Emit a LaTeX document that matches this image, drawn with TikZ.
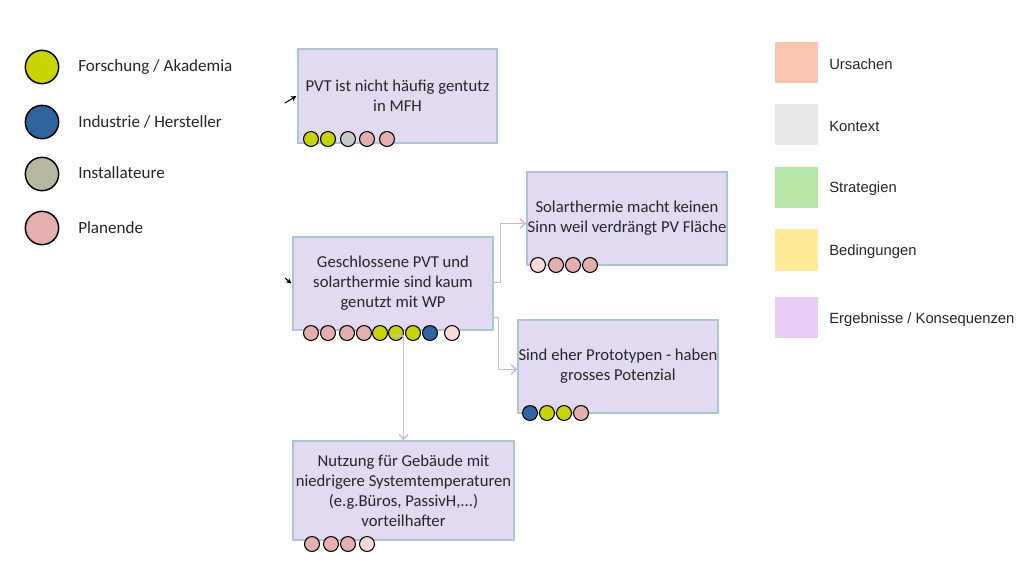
\documentclass[tikz,border=0pt]{standalone}
\usepackage{fontspec}
\setmainfont{Carlito}
\newfontfamily\arialf{Liberation Sans}
\usetikzlibrary{arrows.meta,calc}
\definecolor{boxfill}{HTML}{E2DAF0}
\definecolor{boxline}{HTML}{A9C6D2}
\definecolor{conncol}{HTML}{CDB2E3}
\definecolor{yg}{HTML}{C8D400}
\definecolor{bl}{HTML}{2E64A0}
\definecolor{gy}{HTML}{C9C9C6}
\definecolor{olv}{HTML}{B8B8A2}
\definecolor{pk}{HTML}{E3B0AE}
\definecolor{ppk}{HTML}{F8DAD8}
\definecolor{cUrs}{HTML}{F6C7AE}
\definecolor{cKon}{HTML}{E8E8E8}
\definecolor{cStr}{HTML}{B6E5A6}
\definecolor{cBed}{HTML}{FDEB99}
\definecolor{cErg}{HTML}{E8CCF5}
\tikzset{
  box/.style={draw=boxline, line width=1pt, fill=boxfill, align=center, inner sep=0pt,
    font=\fontsize{12.5}{15}\selectfont, text=black!85},
  dot/.style={circle, draw=black, line width=0.8pt, minimum size=11.2pt, inner sep=0pt},
  legdot/.style={circle, draw=black, line width=1.1pt, minimum size=25pt, inner sep=0pt},
  legtxt/.style={anchor=west, font=\fontsize{12.8}{15}\selectfont, text=black!85, inner sep=0pt},
  legsq/.style={minimum width=32pt, minimum height=31pt, inner sep=0pt},
  legtxt2/.style={anchor=west, font=\arialf\fontsize{11.1}{13}\selectfont, text=black!85, inner sep=0pt},
  conn/.style={draw=conncol, line width=1pt, -{Straight Barb[length=4pt,width=7pt]}},
  blk/.style={draw=black, line width=0.8pt, -{Stealth[length=4pt,width=4pt]}}
}
\begin{document}
\begin{tikzpicture}[x=0.75pt,y=-0.75pt]
\useasboundingbox (0,0) rectangle (1024,569);

% left legend
\node[legdot, fill=yg]  (l1) at (42,67) {};
\node[legdot, fill=bl]  (l2) at (42,122) {};
\node[legdot, fill=olv] (l3) at (42,174) {};
\node[legdot, fill=pk]  (l4) at (42,228) {};
\node[legtxt] (lt1) at (78,67) {Forschung / Akademia};
\node[legtxt] (lt2) at (78,122) {Industrie / Hersteller};
\node[legtxt] (lt3) at (78,173) {Installateure};
\node[legtxt] (lt4) at (78,228) {Planende};

% right legend
\node[legsq, fill=cUrs] (r1) at (796.5,62.5) {};
\node[legsq, fill=cKon] (r2) at (796.5,124.5) {};
\node[legsq, fill=cStr] (r3) at (796.5,187.5) {};
\node[legsq, fill=cBed] (r4) at (796.5,250) {};
\node[legsq, fill=cErg] (r5) at (796.5,317.5) {};
\node[legtxt2] (rt1) at (829,64) {Ursachen};
\node[legtxt2] (rt2) at (829,126) {Kontext};
\node[legtxt2] (rt3) at (829,189) {Strategien};
\node[legtxt2] (rt4) at (829,252) {Bedingungen};
\node[legtxt2] (rt5) at (829,320) {Ergebnisse / Konsequenzen};

% boxes
\node[box, minimum width=149.25pt, minimum height=70.5pt] (b1) at (397.5,96)
  {PVT ist nicht häufig gentutz\\in MFH};
\node[box, minimum width=150pt, minimum height=69.75pt] (b2) at (393,283.5)
  {Geschlossene PVT und\\solarthermie sind kaum\\genutzt mit WP};
\node[box, minimum width=150pt, minimum height=69.75pt] (b3) at (627,218.5)
  {Solarthermie macht keinen\\Sinn weil verdrängt PV Fläche};
\node[box, minimum width=150pt, minimum height=69.75pt] (b4) at (618,366.5)
  {Sind eher Prototypen - haben\\grosses Potenzial};
\node[box, minimum width=165.75pt, minimum height=74.25pt] (b5) at (403.5,490.5)
  {Nutzung für Gebäude mit\\niedrigere Systemtemperaturen\\(e.g.Büros, PassivH,...)\\vorteilhafter};

% dots box1
\node[dot, fill=yg] (b1d1) at (311,139) {};
\node[dot, fill=yg] (b1d2) at (328,139) {};
\node[dot, fill=gy] (b1d3) at (348,139) {};
\node[dot, fill=pk] (b1d4) at (367,139) {};
\node[dot, fill=pk] (b1d5) at (387,139) {};
% dots box2
\node[dot, fill=pk] (b2d1) at (311,333) {};
\node[dot, fill=pk] (b2d2) at (328,333) {};
\node[dot, fill=pk] (b2d3) at (347,333) {};
\node[dot, fill=pk] (b2d4) at (364,333) {};
\node[dot, fill=yg] (b2d5) at (380,333) {};
\node[dot, fill=yg] (b2d6) at (396,333) {};
\node[dot, fill=yg] (b2d7) at (413,333) {};
\node[dot, fill=bl] (b2d8) at (430,333) {};
\node[dot, fill=ppk] (b2d9) at (452,333) {};
% dots box3
\node[dot, fill=ppk] (b3d1) at (538,265) {};
\node[dot, fill=pk] (b3d2) at (556,265) {};
\node[dot, fill=pk] (b3d3) at (573,265) {};
\node[dot, fill=pk] (b3d4) at (590,265) {};
% dots box4
\node[dot, fill=bl] (b4d1) at (530,413) {};
\node[dot, fill=yg] (b4d2) at (547,413) {};
\node[dot, fill=yg] (b4d3) at (564,413) {};
\node[dot, fill=pk] (b4d4) at (581,413) {};
% dots box5
\node[dot, fill=pk] (b5d1) at (312,544) {};
\node[dot, fill=pk] (b5d2) at (331,544) {};
\node[dot, fill=pk] (b5d3) at (348,544) {};
\node[dot, fill=ppk] (b5d4) at (367,544) {};

% connectors
\draw[conn] ($(b2.east)+(0,-1)$) -- ++(7,0) |- ($(b3.west)+(0,5)$);
\draw[conn] ($(b2.east)+(0,34)$) -- ++(5,0) |- ($(b4.west)+(0,3)$);
\draw[conn] ($(b2d6.center)+(-3,3)$) -| (b5.north);

% small black arrows
\coordinate (a1) at (285,103);
\coordinate (a2) at (285,278);
\draw[blk] (a1) -- ($(b1.west)+(-1,0)$);
\draw[blk] (a2) -- ($(b2.west)+(-1,0)$);
\end{tikzpicture}
\end{document}
